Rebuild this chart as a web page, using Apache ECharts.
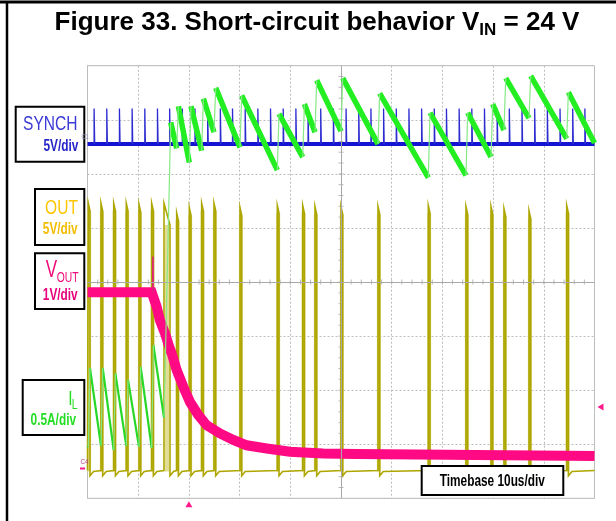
<!DOCTYPE html>
<html><head><meta charset="utf-8">
<script src="https://cdn.jsdelivr.net/npm/echarts@6/dist/echarts.min.js"></script>
<style>html,body{margin:0;padding:0;background:#fff}#c{width:616px;height:521px}</style>
</head><body><div id="c"></div>
<script>
// ---------------- DATA (time in us, 10 us/div; values in channel units) ----------------
// SYNCH (5 V/div): pulse instants
const synchPulseT = [1.3,3.8,6.3,8.8,11.3,13.8,16.2,18.7,21.2,23.7,26.2,28.6,31.1,33.6,36.1,38.6,41.1,43.5,46.0,48.5,
  51.0,53.5,55.9,58.4,60.9,63.4,65.9,68.4,70.8,73.3,75.8,78.3,80.8,83.2,85.7,88.2,90.7,93.2,95.7,98.1];
const synchHighV = 3.3;
// OUT switch node (5 V/div)
const outRiseT = [0.16,2.66,5.17,7.65,10.16,12.66,15.09,17.59,20.08,22.52,24.95,30.08,37.44,42.45,44.87,50.0,57.30,67.22,74.65,79.59,82.15,87.08,94.52];
const outFallT = [0.49,2.99,5.50,7.98,10.49,12.99,16.27,17.92,20.41,22.85,25.28,30.41,37.77,42.78,45.20,50.33,57.63,67.55,74.98,79.92,82.48,87.41,94.85];
const outTopV  = [24.8,24.8,24.8,24.8,24.7,24.8,24.8,23.9,24.4,24.8,24.8,24.4,24.6,24.6,24.5,24.5,24.5,24.6,24.5,24.5,24.3,24.1,24.6];
const outEndV  = [24.1,24.1,24.1,24.1,24.0,24.1,22.8,23.2,23.7,24.1,24.1,23.7,23.9,23.9,23.8,23.8,23.8,23.9,23.8,23.8,23.6,23.4,23.9];
const outDipV = -0.4, outRecoverT = 0.7, outIdleV = 0.1;
// VOUT (1 V/div)
const voutT = [0,12.66,12.98,13.65,14.30,15.29,16.13,16.61,17.59,18.90,20.22,21.85,23.51,26.13,28.76,31.40,35.35,39.94,46.51,53.10,100];
const voutV = [3.30,3.30,3.28,3.03,2.78,2.54,2.29,2.17,1.86,1.55,1.27,1.03,0.84,0.69,0.57,0.47,0.41,0.35,0.32,0.31,0.27];
const voutSpikeT = [12.9];
const voutSpikeV = [3.96];
// IL (0.5 A/div): vertices of the inductor current waveform
const ilT = [0,0.16,0.49,2.66,3.00,5.17,5.50,7.65,7.99,10.16,10.49,12.66,13.00,15.09,16.41,17.59,17.93,20.08,20.41,22.52,22.86,24.95,25.29,
  30.08,30.41,37.44,37.77,42.45,42.78,44.87,45.21,50.00,50.34,57.30,57.63,67.22,67.55,74.65,74.99,79.59,79.92,82.15,82.49,87.08,87.42,94.52,94.85,100];
const ilA = [0.15,0.14,0.87,0.15,0.87,0.11,0.82,0.15,0.76,0.14,0.88,0.13,1.08,0.41,3.14,2.90,3.29,2.77,3.29,2.88,3.36,3.05,3.46,
  2.91,3.39,2.70,3.22,2.82,3.31,3.05,3.53,3.06,3.55,2.94,3.41,2.63,3.23,2.65,3.23,2.82,3.31,3.07,3.55,3.18,3.57,2.99,3.42,2.95];
const shortT = 16.4;
// trigger markers
const trigTimeT = 20.0, trigLevelV = 1.18;

// channel placement: ground position (divisions from bottom) and scale per division
const CH = { synch:{pos:6.55, vdiv:5}, out:{pos:0.495, vdiv:5}, vout:{pos:0.51, vdiv:1}, il:{pos:0.67, vdiv:0.5} };
const dv = (ch, v) => CH[ch].pos + v / CH[ch].vdiv;

// ---------------- build series data ----------------
const synchBase = [[0, dv('synch',0)], [100, dv('synch',0)]];
const synchPulses = [];
synchPulseT.forEach(t => {
  synchPulses.push([t, dv('synch',0)], [t, dv('synch',synchHighV)], [t+0.12, dv('synch',synchHighV)], [t+0.12, dv('synch',0)], [t, '-']);
});
const outPath = [[0, dv('out', outIdleV)]];
const outBars = [];
outRiseT.forEach((t, i) => {
  outPath.push([t, dv('out', outIdleV)], [t, dv('out', outTopV[i])], [outFallT[i], dv('out', outEndV[i])],
    [outFallT[i], dv('out', outDipV)], [outFallT[i] + outRecoverT, dv('out', 0)]);
  const m = (t + outFallT[i]) / 2;
  outBars.push([m, dv('out', 0)], [m, dv('out', outEndV[i])], [m, '-']);
});
outPath.push([100, dv('out', outIdleV)]);
const voutPath = voutT.map((t, i) => [t, dv('vout', voutV[i])]);
const voutSpikes = [];
voutSpikeT.forEach((t, i) => { voutSpikes.push([t-0.05, dv('vout',3.3)], [t, dv('vout', voutSpikeV[i])], [t+0.05, dv('vout',3.3)], [t, '-']); });
const ilRise = [], ilFallThin = [], ilFallThick = [];
for (let i = 0; i < ilT.length - 1; i++) {
  const a = [ilT[i], dv('il', ilA[i])], b = [ilT[i+1], dv('il', ilA[i+1])];
  const tgt = ilA[i+1] > ilA[i] ? ilRise : (ilT[i] < shortT ? ilFallThin : ilFallThick);
  tgt.push(a, b, [ilT[i+1], '-']);
}
// graticule minor ticks on the centre lines
const tickH = [], tickV = [];
for (let k = 1; k < 50; k++) tickH.push([k*2, 4]);
for (let k = 1; k < 40; k++) tickV.push([50, k*0.2]);

const line = (data, color, width, z) => ({ type:'line', data, showSymbol:false, symbol:'none', silent:true, animation:false,
  lineStyle:{ color, width, join:'miter' }, z: z || 2, connectNulls:false });

const chart = echarts.init(document.getElementById('c'), null, { renderer:'canvas', width:616, height:521 });
const grid = { left:87.5, top:65.7, width:507, height:432.6 };
const splitStyle = { show:true, lineStyle:{ color:'#bdbdbd', type:[2,2], width:1 } };
chart.setOption({
  animation:false,
  grid:{ ...grid, show:true, borderColor:'#bdbdbd', borderWidth:1, backgroundColor:'#fff' },
  xAxis:{ type:'value', min:0, max:100, interval:10, axisLine:{show:false}, axisTick:{show:false}, axisLabel:{show:false}, splitLine:splitStyle },
  yAxis:{ type:'value', min:0, max:8, interval:1, axisLine:{show:false}, axisTick:{show:false}, axisLabel:{show:false}, splitLine:splitStyle },
  series:[
    { type:'scatter', data:tickH, symbol:'rect', symbolSize:[1,5], itemStyle:{color:'#a8a8a8'}, silent:true, z:1,
      markLine:{ symbol:['none','none'], silent:true, label:{show:false}, lineStyle:{color:'#a8a8a8', type:'solid', width:1}, data:[{xAxis:50},{yAxis:4}] } },
    { type:'scatter', data:tickV, symbol:'rect', symbolSize:[5,1], itemStyle:{color:'#a8a8a8'}, silent:true, z:1 },
    line(outBars, '#e2dd96', 4, 2),
    line(outPath, '#aea600', 1.6, 2),
    line(synchBase, '#1414d2', 4, 3),
    line(synchPulses, '#2c2cd0', 1.3, 3),
    line(voutPath, '#ff0a84', 10, 4),
    line(voutSpikes, '#e0207a', 1.5, 4),
    line(ilFallThin, '#28d828', 2.2, 5),
    line(ilFallThick, '#22ee22', 5.5, 5),
    line(ilRise, '#86e886', 1.2, 5)
  ]
});

// ---------------- annotations ----------------
const FONT = '"Liberation Sans", Arial, sans-serif';
const SQ = 0.74; // horizontal condensing of the scope screenshot labels
const mid = (baseline, fs) => baseline - 0.3465 * fs;
function label(text, x, baseline, fs, weight, color, align, sx) {
  return { type:'text', x, y: mid(baseline, fs), scaleX: sx == null ? SQ : sx, z:20,
    style:{ x:0, y:0, text, fill:color, fontSize:fs, fontWeight:weight, fontFamily:FONT,
      align, textAlign:align, verticalAlign:'middle', textVerticalAlign:'middle' } };
}
function box(x1, y1, x2, y2) {
  return { type:'rect', z:15, shape:{ x:x1, y:y1, width:x2-x1, height:y2-y1 }, style:{ fill:'#fff', stroke:'#000', lineWidth:2 } };
}
const ctx = document.createElement('canvas').getContext('2d');
ctx.font = 'bold 26px ' + FONT; const w1 = ctx.measureText('Figure 33. Short-circuit behavior V').width;
const w3 = ctx.measureText(' = 24 V').width;
ctx.font = 'bold 17px ' + FONT; const w2 = ctx.measureText('IN').width;
const tStart = 317 - (w1 + w2 + w3) / 2;

const pTrigX = chart.convertToPixel({gridIndex:0}, [trigTimeT, 0]);
const pTrigY = chart.convertToPixel({gridIndex:0}, [100, dv('vout', trigLevelV)]);

const g = [
  { type:'line', z:20, shape:{x1:0,y1:2,x2:616,y2:2}, style:{stroke:'#000', lineWidth:3} },
  { type:'line', z:20, shape:{x1:7,y1:2,x2:7,y2:521}, style:{stroke:'#000', lineWidth:2.5} },
  label('Figure 33. Short-circuit behavior V', tStart, 32, 26, 'bold', '#000', 'left', 1),
  label('IN', tStart + w1, 36.5, 17, 'bold', '#000', 'left', 1),
  label(' = 24 V', tStart + w1 + w2, 32, 26, 'bold', '#000', 'left', 1),
  box(15.7,106.7,84.3,161.7), box(35,189,84.3,245), box(35,253.3,84.3,309), box(22.7,380,84.3,435), box(421.7,466,563.3,495),
  label('SYNCH', 50.3, 131.7, 21, 'normal', '#3a3ad6', 'center'),
  label('5V/div', 78.3, 151.7, 16, 'bold', '#2424c8', 'right'),
  label('OUT', 61.5, 215, 21, 'normal', '#ffc600', 'center'),
  label('5V/div', 77.7, 235, 16, 'bold', '#f2bc00', 'right'),
  label('V', 45.7, 278.3, 23, 'normal', '#ee0a7a', 'left'),
  label('OUT', 56.7, 283, 14, 'normal', '#ee0a7a', 'left'),
  label('1V/div', 77.7, 300.7, 16, 'bold', '#e8007a', 'right'),
  label('I', 68.3, 406.7, 21, 'normal', '#22dd22', 'left'),
  label('L', 71.7, 410, 14, 'normal', '#22dd22', 'left'),
  label('0.5A/div', 76, 426, 16, 'bold', '#22dd22', 'right'),
  label('Timebase 10us/div', 492.3, 486.7, 16, 'bold', '#000', 'center'),
  label('C1', 81.5, 139, 7, 'normal', '#8a8ab0', 'left', 0.8),
  label('C4', 80.5, 465, 8, 'normal', '#b04080', 'left', 0.8),
  { type:'line', z:20, shape:{x1:80,y1:468.5,x2:85,y2:468.5}, style:{stroke:'#ff1a8c', lineWidth:2} },
  { type:'polygon', z:20, shape:{ points:[[pTrigX[0]-3.5, pTrigX[1]+9],[pTrigX[0]+3.5, pTrigX[1]+9],[pTrigX[0], pTrigX[1]+3]] }, style:{fill:'#ff1a8c'} },
  { type:'polygon', z:20, shape:{ points:[[pTrigY[0]+3, pTrigY[1]],[pTrigY[0]+9, pTrigY[1]-3.5],[pTrigY[0]+9, pTrigY[1]+3.5]] }, style:{fill:'#ff1a8c'} }
];
chart.setOption({ graphic: g });
</script>
</body></html>
